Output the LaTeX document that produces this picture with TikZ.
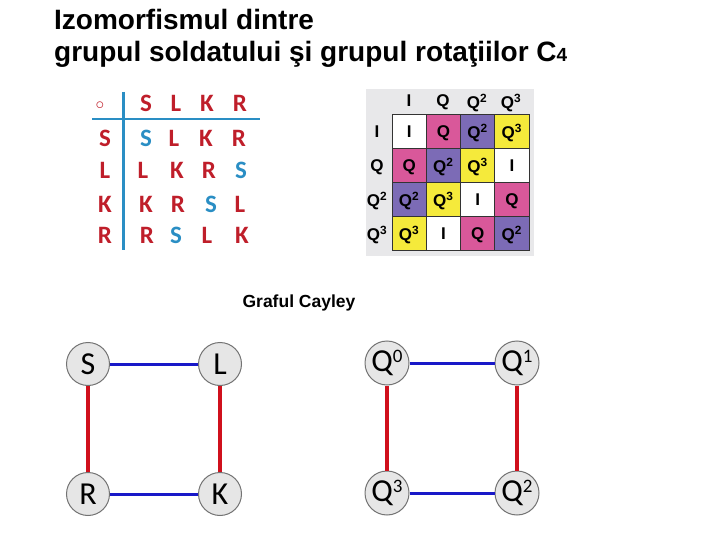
\documentclass[tikz,border=0pt]{standalone}
\usepackage{fontspec}
\setmainfont{Liberation Sans}
\newfontfamily\calfont{Carlito}
\usetikzlibrary{positioning}
\definecolor{sred}{HTML}{BF1E2A}
\definecolor{sblue}{HTML}{2A8EC4}
\definecolor{qpink}{HTML}{D9589A}
\definecolor{qpurple}{HTML}{7C6BB6}
\definecolor{qyellow}{HTML}{F5EA3B}
\definecolor{qback}{HTML}{E8E8EA}
\definecolor{vgray}{HTML}{E6E6E6}
\definecolor{edgered}{HTML}{D0101C}
\definecolor{edgeblue}{HTML}{1818C8}

\begin{document}
\begin{tikzpicture}[x=1pt,y=-1pt,
    letter/.style={font=\calfont\bfseries\fontsize{25}{25}\selectfont, inner sep=0pt, text depth=0pt},
    qlabel/.style={font=\bfseries\fontsize{17}{17}\selectfont, inner sep=0pt, text depth=0pt},
    qcell/.style={draw=black!80, line width=0.8pt, minimum size=34.25pt, inner sep=0pt,
                  font=\bfseries\fontsize{17}{17}\selectfont, text depth=0pt},
    vertex/.style={circle, draw=black!55, fill=vgray, line width=1pt, minimum size=43pt,
                   inner sep=0pt, font=\calfont\fontsize{32}{32}\selectfont},
    titletext/.style={anchor=base west, inner sep=0pt, font=\bfseries\fontsize{28}{28}\selectfont},
    redge/.style={edgered, line width=3.4pt},
    bedge/.style={edgeblue, line width=3pt}]
  \useasboundingbox (0,0) rectangle (720,540);

  % Title
  \node[titletext] (title1) at (54,30) {Izomorfismul dintre};
  \node[titletext] (title2) at (54,62)
    {grupul soldatului şi grupul rotaţiilor C{\fontsize{19}{19}\selectfont 4}};

  % Soldier table
  \draw[sblue, line width=2.8pt] (123.5,92) -- (123.5,250);
  \draw[sblue, line width=2.8pt] (92,119) -- (260,119);
  \node[letter, sred, font=\fontsize{19}{19}\selectfont] (op) at (100,106) {$\circ$};
  \foreach \x/\t [count=\i] in {146/S,176/L,207/K,240/R}
    \node[letter, sred] (h\i) at (\x,103) {\t};
  \foreach \y/\t [count=\j] in {138/S,170/L,204/K,235/R}
    \node[letter, sred] (r\j) at (105,\y) {\t};
  % rows of the table
  \foreach \x/\t/\c [count=\i] in {146/S/sblue,174/L/sred,206/K/sred,239/R/sred}
    \node[letter, \c] (a1\i) at (\x,138) {\t};
  \foreach \x/\t/\c [count=\i] in {143/L/sred,177/K/sred,209/R/sred,241/S/sblue}
    \node[letter, \c] (a2\i) at (\x,170) {\t};
  \foreach \x/\t/\c [count=\i] in {146/K/sred,178/R/sred,211/S/sblue,240/L/sred}
    \node[letter, \c] (a3\i) at (\x,204) {\t};
  \foreach \x/\t/\c [count=\i] in {147/R/sred,176/S/sblue,207/L/sred,242/K/sred}
    \node[letter, \c] (a4\i) at (\x,235) {\t};

  % Rotation table
  \fill[qback] (366,89) rectangle (534,256);
  \foreach \x/\t [count=\i] in {409/I,443/Q,477/Q\textsuperscript{2},511/Q\textsuperscript{3}}
    \node[qlabel] (qh\i) at (\x,101) {\t};
  \foreach \y/\t [count=\j] in {131.5/I,165.5/Q,199.5/Q\textsuperscript{2},233.5/Q\textsuperscript{3}}
    \node[qlabel] (qr\j) at (377,\y) {\t};
  \foreach \y/\ra/\ca/\rb/\cb/\rc/\cc/\rd/\cd [count=\j] in
      {131.5/I/white/Q/qpink/Q\textsuperscript{2}/qpurple/Q\textsuperscript{3}/qyellow,
       165.5/Q/qpink/Q\textsuperscript{2}/qpurple/Q\textsuperscript{3}/qyellow/I/white,
       199.5/Q\textsuperscript{2}/qpurple/Q\textsuperscript{3}/qyellow/I/white/Q/qpink,
       233.5/Q\textsuperscript{3}/qyellow/I/white/Q/qpink/Q\textsuperscript{2}/qpurple} {
    \node[qcell, fill=\ca] (q\j1) at (409.125,\y) {\ra};
    \node[qcell, fill=\cb] (q\j2) at (443.375,\y) {\rb};
    \node[qcell, fill=\cc] (q\j3) at (477.625,\y) {\rc};
    \node[qcell, fill=\cd] (q\j4) at (511.875,\y) {\rd};
  }

  \node[inner sep=0pt, font=\bfseries\fontsize{17.5}{17.5}\selectfont] (cayley) at (299,303) {Graful Cayley};

  % Cayley graph of the soldier group
  \node[vertex] (S) at (88,364) {S};
  \node[vertex] (L) at (220,364) {L};
  \node[vertex] (R) at (88,494) {R};
  \node[vertex] (K) at (220,494) {K};
  \draw[bedge] (S) -- (L);
  \draw[bedge] (R) -- (K);
  \draw[redge] (S) -- (R);
  \draw[redge] (L) -- (K);

  % Cayley graph of C4
  \node[vertex, minimum size=44pt] (Q0) at (387,363) {Q{\fontsize{19}{19}\selectfont\raisebox{9pt}{0}}};
  \node[vertex, minimum size=44pt] (Q1) at (517,363) {Q{\fontsize{19}{19}\selectfont\raisebox{9pt}{1}}};
  \node[vertex, minimum size=44pt] (Q3) at (387,493) {Q{\fontsize{19}{19}\selectfont\raisebox{9pt}{3}}};
  \node[vertex, minimum size=44pt] (Q2) at (517,493) {Q{\fontsize{19}{19}\selectfont\raisebox{9pt}{2}}};
  \draw[bedge] (Q0) -- (Q1);
  \draw[bedge] (Q3) -- (Q2);
  \draw[redge] (Q0) -- (Q3);
  \draw[redge] (Q1) -- (Q2);
\end{tikzpicture}
\end{document}
